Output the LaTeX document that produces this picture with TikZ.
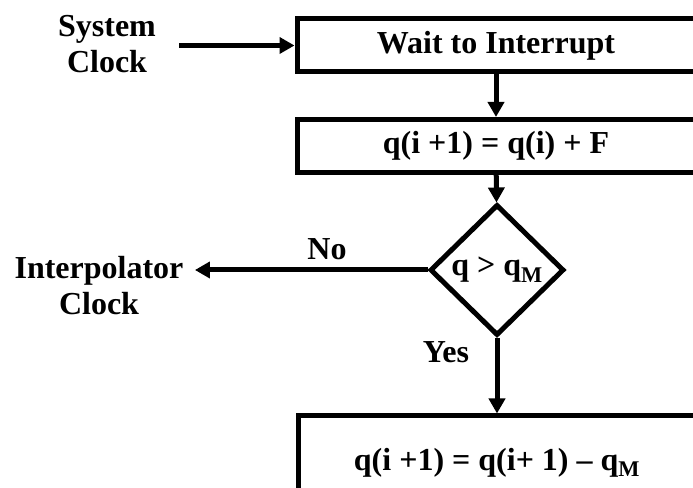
\documentclass[tikz,border=0pt]{standalone}
\usepackage{fontspec}
\setmainfont{Liberation Serif}
\usetikzlibrary{arrows.meta,shapes.geometric}
\begin{document}
\begin{tikzpicture}[x=1pt, y=1pt, line width=5pt,
	txt/.style={font=\fontsize{32}{36}\selectfont\bfseries, align=center},
	blk/.style={txt, draw, minimum width=398pt, minimum height=53pt, inner sep=0pt},
	arr/.style={-{Triangle[length=15pt,width=16pt]}}]
	\useasboundingbox (0,0) rectangle (693,487);
	\clip (0,0) rectangle (693,487);
	\node[blk] (wait) at (496,441.5) {Wait to Interrupt};
	\node[blk] (upd) at (496,341) {q(i +1) = q(i) + F};
	\node[txt, draw, diamond, inner sep=0pt, minimum width=134pt, minimum height=131pt] (cmp) at (497,217) {q > q\textsubscript{M}};
	\node[blk, minimum height=94pt] (sub) at (497,24) {q(i +1) = q(i+ 1) -- q\textsubscript{M}};
	\node[txt, inner sep=0pt] (sysclk) at (107,443) {System\\Clock};
	\node[txt, inner sep=0pt] (intclk) at (99,201) {Interpolator\\Clock};
	\node[txt, inner sep=0pt] (no) at (327,238) {No};
	\node[txt, inner sep=0pt] (yes) at (446,135) {Yes};
	\draw[arr] ([xshift=21pt]sysclk.east |- wait.west) -- (wait.west);
	\draw[arr] (wait) -- (upd);
	\draw[arr] (upd) -- (cmp);
	\draw[arr] (cmp.west) -- ([xshift=9pt]intclk.east |- cmp.west);
	\draw[arr] (cmp.south) -- (cmp.south |- sub.north);
\end{tikzpicture}
\end{document}
